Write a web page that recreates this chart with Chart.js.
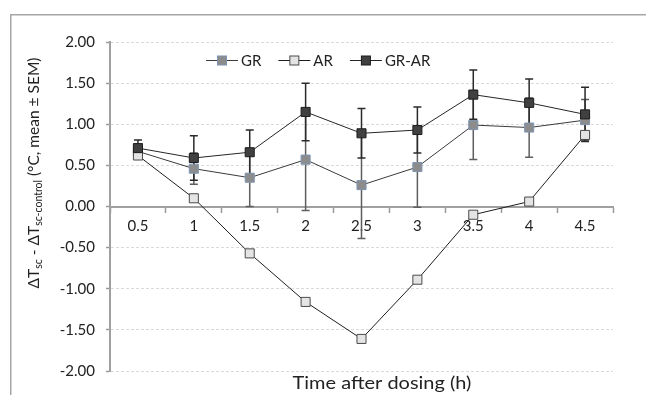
<!DOCTYPE html>
<html><head><meta charset="utf-8">
<script src="https://cdn.jsdelivr.net/npm/chart.js@4/dist/chart.umd.min.js"></script>
<style>html,body{margin:0;padding:0;background:#fff}#wrap{width:646px;height:395px}</style>
</head><body><div id="wrap"><canvas id="c" width="646" height="395"></canvas></div>
<script>
const categories = ['0.5','1','1.5','2','2.5','3','3.5','4','4.5'];
const grValues   = [0.67, 0.46, 0.35, 0.57, 0.26, 0.48, 0.99, 0.96, 1.05];
const arValues   = [0.62, 0.10, -0.57, -1.16, -1.61, -0.89, -0.10, 0.06, 0.87];
const grArValues = [0.71, 0.59, 0.66, 1.15, 0.89, 0.93, 1.36, 1.26, 1.12];
const grErrors   = [0.05, 0.19, 0.35, 0.62, 0.65, 0.49, 0.42, 0.36, 0.25];
const grArErrors = [0.10, 0.27, 0.27, 0.35, 0.30, 0.28, 0.30, 0.29, 0.33];
const yMin = -2, yMax = 2, yStep = 0.5;
const xTitle = 'Time after dosing (h)';
const yTitleParts = [['ΔT',0],['sc',1],[' - ΔT',0],['sc-control',1],[' (°C, mean ± SEM)',0]];

const FONT = 'Lato';

const framePlugin = {
  id:'frame',
  beforeDraw(chart){
    const c = chart.ctx;
    c.save();
    c.strokeStyle = '#a6a6a6'; c.lineWidth = 1.5;
    c.beginPath(); c.moveTo(10.75, 395); c.lineTo(10.75, 14.75); c.lineTo(646, 14.75); c.stroke();
    c.restore();
  }
};

const errorBarPlugin = {
  id:'errbars',
  beforeDatasetsDraw(chart){
    const c = chart.ctx, xs = chart.scales.x, ys = chart.scales.y;
    c.save();
    chart.data.datasets.forEach(ds => {
      if (!ds.errors) return;
      c.strokeStyle = ds.errColor; c.lineWidth = ds.errWidth;
      ds.data.forEach((v, i) => {
        const e = ds.errors[i];
        const x = xs.getPixelForValue(i);
        const y1 = ys.getPixelForValue(v + e), y2 = ys.getPixelForValue(v - e);
        c.beginPath();
        c.moveTo(x, y1); c.lineTo(x, y2);
        c.moveTo(x - 4, y1); c.lineTo(x + 4, y1);
        c.moveTo(x - 4, y2); c.lineTo(x + 4, y2);
        c.stroke();
      });
    });
    c.restore();
  }
};

const legendPlugin = {
  id:'customLegend',
  afterDatasetsDraw(chart){
    const c = chart.ctx;
    c.save();
    c.font = '15px ' + FONT;
    c.textBaseline = 'middle';
    let x = 206; const y = 60.5;
    [0,1,2].forEach(i => {
      const ds = chart.data.datasets[i];
      c.strokeStyle = ds.borderColor; c.lineWidth = 1;
      c.beginPath(); c.moveTo(x, y); c.lineTo(x + 32, y); c.stroke();
      c.fillStyle = ds.pointBackgroundColor; c.strokeStyle = ds.pointBorderColor;
      c.fillRect(x + 11.5, y - 4.5, 9, 9); c.strokeRect(x + 11.5, y - 4.5, 9, 9);
      c.fillStyle = '#222';
      c.fillText(ds.label, x + 35, y + 1);
      x += 35 + c.measureText(ds.label).width + 17;
    });
    c.restore();
  }
};

const titlesPlugin = {
  id:'titles',
  afterDraw(chart){
    const c = chart.ctx;
    c.save();
    // x-axis title
    c.save();
    c.font = '17.5px ' + FONT;
    c.fillStyle = '#222';
    c.textAlign = 'center';
    c.textBaseline = 'alphabetic';
    c.translate(382, 389);
    c.scale(1.14, 1);
    c.fillText(xTitle, 0, 0);
    c.restore();
    // y-axis title with subscripts
    c.fillStyle = '#222';
    c.textAlign = 'left';
    c.textBaseline = 'alphabetic';
    const mainF = '15.5px ' + FONT, subF = '10.5px ' + FONT;
    let total = 0;
    yTitleParts.forEach(([t, s]) => { c.font = s ? subF : mainF; total += c.measureText(t).width; });
    c.translate(27.5, 173);
    c.rotate(-Math.PI / 2);
    let u = -total / 2;
    yTitleParts.forEach(([t, s]) => {
      c.font = s ? subF : mainF;
      c.fillText(t, u, s ? 14.5 : 11.5);
      u += c.measureText(t).width;
    });
    c.restore();
  }
};

new Chart(document.getElementById('c'), {
  type:'line',
  data:{
    labels: categories,
    datasets:[
      {label:'GR', data:grValues, errors:grErrors, errColor:'#5e5e5e', errWidth:1.5,
       borderColor:'#3a3a3a', borderWidth:1, pointStyle:'rect', pointRadius:6.4,
       pointBackgroundColor:'#8c8c8c', pointBorderColor:'#7d94b3', pointBorderWidth:1, order:2},
      {label:'AR', data:arValues,
       borderColor:'#1e1e1e', borderWidth:1, pointStyle:'rect', pointRadius:6.4,
       pointBackgroundColor:'#e4e4e4', pointBorderColor:'#4a4a4a', pointBorderWidth:1, order:1},
      {label:'GR-AR', data:grArValues, errors:grArErrors, errColor:'#2a2a2a', errWidth:1.5,
       borderColor:'#262626', borderWidth:1, pointStyle:'rect', pointRadius:6.4,
       pointBackgroundColor:'#404040', pointBorderColor:'#1c1c1c', pointBorderWidth:1, order:0}
    ]
  },
  options:{
    responsive:false, animation:false, devicePixelRatio:1,
    layout:{padding:{left:50, top:42, right:33, bottom:24}},
    elements:{line:{tension:0}},
    scales:{
      x:{
        type:'category', position:{y:0}, offset:true,
        grid:{offset:true, drawOnChartArea:false, drawTicks:true, tickLength:5, tickColor:'#9a9a9a', tickWidth:1.5, color:'#9a9a9a'},
        border:{display:true, color:'#a0a0a0', width:2},
        ticks:{color:'#222', font:{family:FONT, size:15}, padding:6, maxRotation:0, autoSkip:false}
      },
      y:{
        min:yMin, max:yMax,
        ticks:{stepSize:yStep, callback:v => Number(v).toFixed(2), color:'#222', font:{family:FONT, size:15}, padding:11},
        grid:{color:'#dadada', lineWidth:1, tickColor:'#9a9a9a', tickLength:4, tickWidth:1.5},
        border:{display:true, color:'#a0a0a0', width:2, dash:[3,2]},
        afterFit(s){ s.width = 60; s.paddingTop = 0; s.paddingBottom = 0; }
      }
    },
    plugins:{
      legend:{display:false},
      tooltip:{enabled:false},
      title:{display:false}
    }
  },
  plugins:[framePlugin, errorBarPlugin, legendPlugin, titlesPlugin]
});
</script></body></html>
